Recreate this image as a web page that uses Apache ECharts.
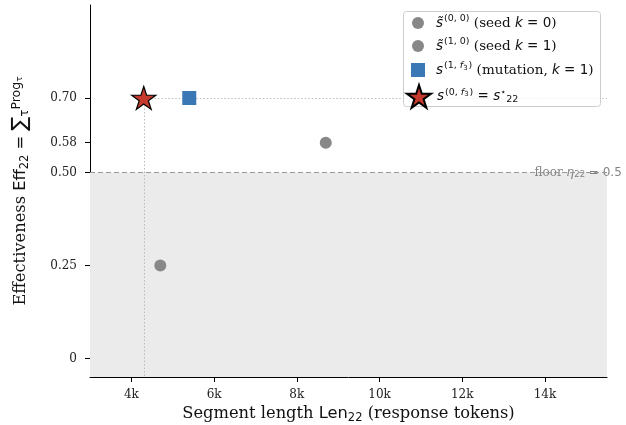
<!DOCTYPE html>
<html><head><meta charset="utf-8">
<script src="https://cdn.jsdelivr.net/npm/echarts@6/dist/echarts.min.js"></script>
<style>html,body{margin:0;padding:0;background:#fff}#c{width:626px;height:425px}</style>
</head><body><div id="c"></div>
<script>
// ---- data ----
const seedLen = [4700, 8700];
const seedEff = [0.25, 0.58];
const mutLen = [5400];
const mutEff = [0.70];
const starLen = [4300];
const starEff = [0.70];
const floorEff = 0.5;
const floorLabelLen = 13750;
const xMin = 3000, xMax = 15500;
const yMin = -0.05, yMax = 0.95;
const xTicks = [4000, 6000, 8000, 10000, 12000, 14000];
const xTickLabels = ['4k', '6k', '8k', '10k', '12k', '14k'];
const yTicks = [0, 0.25, 0.5, 0.58, 0.7];
const yTickLabels = ['0', '0.25', '0.50', '0.58', '0.70'];

const SERIF = 'DejaVu Serif';
const SANS = 'DejaVu Sans';
const STAR = 'path://M50 0 L61.23 34.55 L97.55 34.55 L68.16 55.9 L79.39 90.45 L50 69.1 L20.61 90.45 L31.84 55.9 L2.45 34.55 L38.77 34.55 Z';
const GRAY = '#888888', BLUE = '#3a78b5', RED = '#c53a2c';
const LF = 13.5, LS = 9.5;
const TF = 16.3, TS = 11.5;

const lgRich = {
  p1: {padding: [0, 0, 0, 7]}, p2: {padding: [0, 0, 0, 6]}, p3: {padding: [0, 0, 0, 1]},
  m: {fontFamily: SANS, fontStyle: 'italic', fontSize: LF, color: '#111'},
  n: {fontFamily: SANS, fontSize: LF, color: '#111'},
  t: {fontFamily: SERIF, fontSize: LF, color: '#111'},
  sup: {fontFamily: SANS, fontSize: LS, color: '#111', padding: [0, 0, 8, 1]},
  supi: {fontFamily: SANS, fontStyle: 'italic', fontSize: LS, color: '#111', padding: [0, 0, 8, 0]},
  ssub: {fontFamily: SANS, fontSize: 7, color: '#111', padding: [0, 0, 4, 0]},
  sub: {fontFamily: SANS, fontSize: LS, color: '#111', padding: [6, 0, 0, 0]},
  starsup: {fontFamily: SANS, fontSize: LS, color: '#111', padding: [0, 0, 7, 0]}
};
const lgText = {
  seed0: '{p1|}{m|s̃}{sup|(0, 0)}{t| (seed }{m|k}{n| = 0}{t|)}',
  seed1: '{p1|}{m|s̃}{sup|(1, 0)}{t| (seed }{m|k}{n| = 1}{t|)}',
  mut: '{p2|}{m|s}{sup|(1, }{supi|f}{ssub|3}{sup|)}{t| (mutation, }{m|k}{n| = 1}{t|)}',
  star: '{p3|}{m|s}{sup|(0, }{supi|f}{ssub|3}{sup|)}{n| = }{m|s}{starsup|⋆}{sub|22}'
};
function mkLegend(name, icon, w, h, left, top) {
  return {
    left: left, top: top, padding: 0, orient: 'vertical', itemWidth: w, itemHeight: h,
    selectedMode: false, z: 20,
    data: [{name: name, icon: icon}],
    formatter: n => lgText[n],
    textStyle: {rich: lgRich}
  };
}

const chart = echarts.init(document.getElementById('c'), null, {renderer: 'canvas'});
chart.setOption({
  animation: false,
  backgroundColor: '#fff',
  grid: {left: 90, right: 19, top: 5, bottom: 48, containLabel: false, outerBoundsMode: 'none'},
  xAxis: {
    type: 'value', min: xMin, max: xMax,
    name: '{t|Segment length }{s|Len}{sub|22}{t| (response tokens)}',
    nameLocation: 'middle', nameGap: 27,
    nameTextStyle: {rich: {
      t: {fontFamily: SERIF, fontSize: TF, color: '#111'},
      s: {fontFamily: SANS, fontSize: TF, color: '#111'},
      sub: {fontFamily: SANS, fontSize: TS, color: '#111', padding: [8, 0, 0, 0]}
    }},
    axisLine: {show: true, onZero: false, lineStyle: {color: '#000', width: 1}},
    axisTick: {show: true, length: 5, lineStyle: {color: '#000'}, customValues: xTicks},
    axisLabel: {show: true, customValues: xTicks, fontFamily: SERIF, fontSize: 12, color: '#222', margin: 12,
      formatter: v => xTickLabels[xTicks.indexOf(v)]},
    splitLine: {show: false}
  },
  yAxis: {
    type: 'value', min: yMin, max: yMax,
    name: '{t|Effectiveness }{s|Eff}{sub|22}{s| = }{sig|∑}{sub|τ}{pr|Prog}{sub2|τ}',
    nameLocation: 'middle', nameGap: 58,
    nameTextStyle: {rich: {
      t: {fontFamily: SERIF, fontSize: TF, color: '#111'},
      s: {fontFamily: SANS, fontSize: TF, color: '#111'},
      sig: {fontFamily: SANS, fontSize: 21, color: '#111'},
      sub: {fontFamily: SANS, fontSize: TS, color: '#111', padding: [9, 0, 0, 0]},
      pr: {fontFamily: SANS, fontSize: 12.5, color: '#111', padding: [0, 0, 9, 0]},
      sub2: {fontFamily: SANS, fontSize: 9, color: '#111', padding: [0, 0, 3, 0]}
    }},
    axisLine: {show: true, onZero: false, lineStyle: {color: '#000', width: 1}},
    axisTick: {show: true, length: 5, lineStyle: {color: '#000'}, customValues: yTicks},
    axisLabel: {show: true, customValues: yTicks, fontFamily: SERIF, fontSize: 12, color: '#222', margin: 13,
      formatter: v => yTickLabels[yTicks.indexOf(v)]},
    splitLine: {show: false}
  },
  legend: [
    mkLegend('seed0', 'circle', 12, 12, 412, 14),
    mkLegend('seed1', 'circle', 12, 12, 412, 37),
    mkLegend('mut', 'rect', 14, 14, 411, 61),
    mkLegend('star', STAR, 24, 23, 406, 84)
  ],
  graphic: [{
    type: 'rect', left: 403, top: 11, z: 15,
    shape: {width: 197, height: 95, r: 3},
    style: {fill: 'rgba(255,255,255,0.8)', stroke: '#cccccc', lineWidth: 1}
  }],
  series: [
    {
      name: 'floorArea', type: 'line', data: [], silent: true,
      markArea: {silent: true, itemStyle: {color: '#ebebeb', opacity: 1},
        data: [[{coord: [xMin, yMin]}, {coord: [xMax, floorEff]}]]},
      markLine: {silent: true, symbol: 'none', label: {show: false},
        lineStyle: {color: '#999', type: [5, 3], width: 1, opacity: 1},
        data: [[{coord: [xMin, floorEff]}, {coord: [xMax, floorEff]}]]}
    },
    {
      name: 'floorLabel', type: 'scatter', symbolSize: 0, silent: true,
      data: [[floorLabelLen, floorEff]],
      label: {show: true, position: 'right', distance: 0, color: '#666',
        formatter: '{t|floor }{m|η}{sub|22}{n| = 0.5}',
        rich: {
          t: {fontFamily: SERIF, fontSize: 12, color: '#666'},
          m: {fontFamily: SANS, fontStyle: 'italic', fontSize: 12, color: '#666'},
          n: {fontFamily: SANS, fontSize: 12, color: '#666'},
          sub: {fontFamily: SANS, fontSize: 8.5, color: '#666', padding: [5, 0, 0, 0]}
        }}
    },
    {
      name: 'seed0', type: 'scatter', symbol: 'circle', symbolSize: 12, z: 5,
      itemStyle: {color: GRAY, opacity: 1}, data: [[seedLen[0], seedEff[0]]]
    },
    {
      name: 'seed1', type: 'scatter', symbol: 'circle', symbolSize: 12, z: 5,
      itemStyle: {color: GRAY, opacity: 1}, data: [[seedLen[1], seedEff[1]]]
    },
    {
      name: 'mut', type: 'scatter', symbol: 'rect', symbolSize: 14, z: 5,
      itemStyle: {color: BLUE, opacity: 1}, data: mutLen.map((x, i) => [x, mutEff[i]])
    },
    {
      name: 'star', type: 'scatter', symbol: STAR, symbolSize: [24, 23], z: 6,
      itemStyle: {color: RED, borderColor: '#000', borderWidth: 1.2, opacity: 1},
      data: starLen.map((x, i) => [x, starEff[i]]),
      markLine: {silent: true, symbol: 'none', label: {show: false},
        lineStyle: {color: '#bbbbbb', type: [1.5, 2], width: 1, opacity: 1},
        data: [
          [{coord: [starLen[0], starEff[0]]}, {coord: [xMax, starEff[0]]}],
          [{coord: [starLen[0], starEff[0]]}, {coord: [starLen[0], yMin]}]
        ]}
    }
  ]
});
</script></body></html>
